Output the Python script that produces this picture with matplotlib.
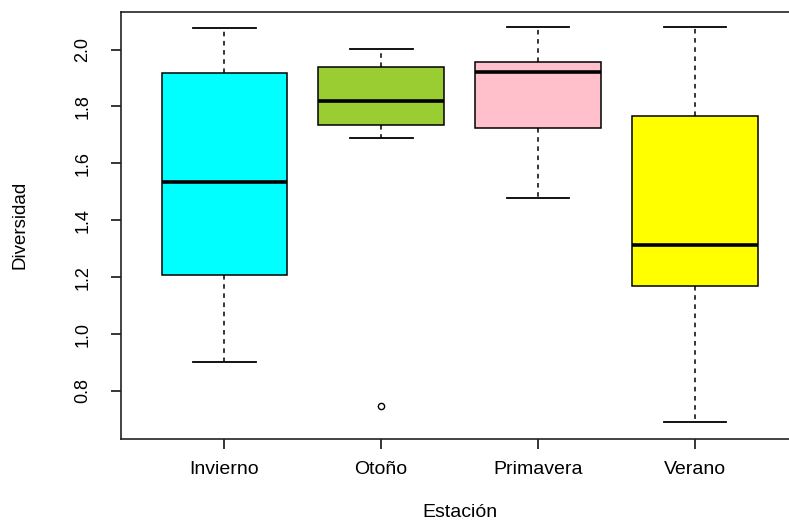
import matplotlib
matplotlib.use('Agg')
import matplotlib.pyplot as plt

estaciones = ['Invierno', 'Otoño', 'Primavera', 'Verano']
colores = ['#00FFFF', '#9ACD32', '#FFC0CB', '#FFFF00']
bigote_inf = [0.900, 1.689, 1.479, 0.690]
q1 = [1.209, 1.736, 1.723, 1.169]
mediana = [1.536, 1.820, 1.921, 1.313]
q3 = [1.918, 1.937, 1.956, 1.768]
bigote_sup = [2.076, 2.003, 2.079, 2.079]
atipicos = [[], [0.748], [], []]

plt.rcParams['font.family'] = ['Liberation Sans', 'DejaVu Sans']

stats = []
for i in range(len(estaciones)):
    stats.append({'label': estaciones[i], 'whislo': bigote_inf[i], 'q1': q1[i],
                  'med': mediana[i], 'q3': q3[i], 'whishi': bigote_sup[i],
                  'fliers': atipicos[i]})

fig = plt.figure(figsize=(7.89, 5.25), dpi=100)
# el marco sigue mas alla del borde derecho de la figura
ax = fig.add_axes([0.153, 0.1644, 0.859, 0.8133])

bp = ax.bxp(stats, positions=[1, 2, 3, 4], widths=0.8, capwidths=0.4,
            patch_artist=True,
            boxprops=dict(linewidth=1.1, edgecolor='black'),
            medianprops=dict(color='black', linewidth=2.6, solid_capstyle='butt'),
            whiskerprops=dict(color='black', linewidth=1.1, linestyle=(0, (3, 3))),
            capprops=dict(color='black', linewidth=1.3),
            flierprops=dict(marker='o', markersize=4.5, markerfacecolor='none',
                            markeredgecolor='black', markeredgewidth=1.0))
for caja, c in zip(bp['boxes'], colores):
    caja.set_facecolor(c)

ax.set_xlim(0.34, 4.66)
ax.set_ylim(0.632, 2.133)
ax.set_yticks([0.8, 1.0, 1.2, 1.4, 1.6, 1.8, 2.0])
ax.set_yticklabels(['0.8', '1.0', '1.2', '1.4', '1.6', '1.8', '2.0'],
                   rotation=90, va='center')
ax.set_xticks([1, 2, 3, 4])
ax.set_xticklabels(estaciones)
ax.tick_params(axis='both', direction='out', length=7, width=1.1,
               colors='black')
ax.tick_params(axis='y', pad=14, labelsize=13)
ax.tick_params(axis='x', pad=9, labelsize=14)

for s in ax.spines.values():
    s.set_linewidth(1.2)
    s.set_color('#222222')
ax.spines['right'].set_visible(False)

ax.set_xlabel('Estación', fontsize=14, va='center')
ax.set_ylabel('Diversidad', fontsize=13.5, va='center')
ax.xaxis.set_label_coords(0.5, -0.174)
ax.yaxis.set_label_coords(-0.1487, 0.5)

fig.savefig('out.png', dpi=100)
